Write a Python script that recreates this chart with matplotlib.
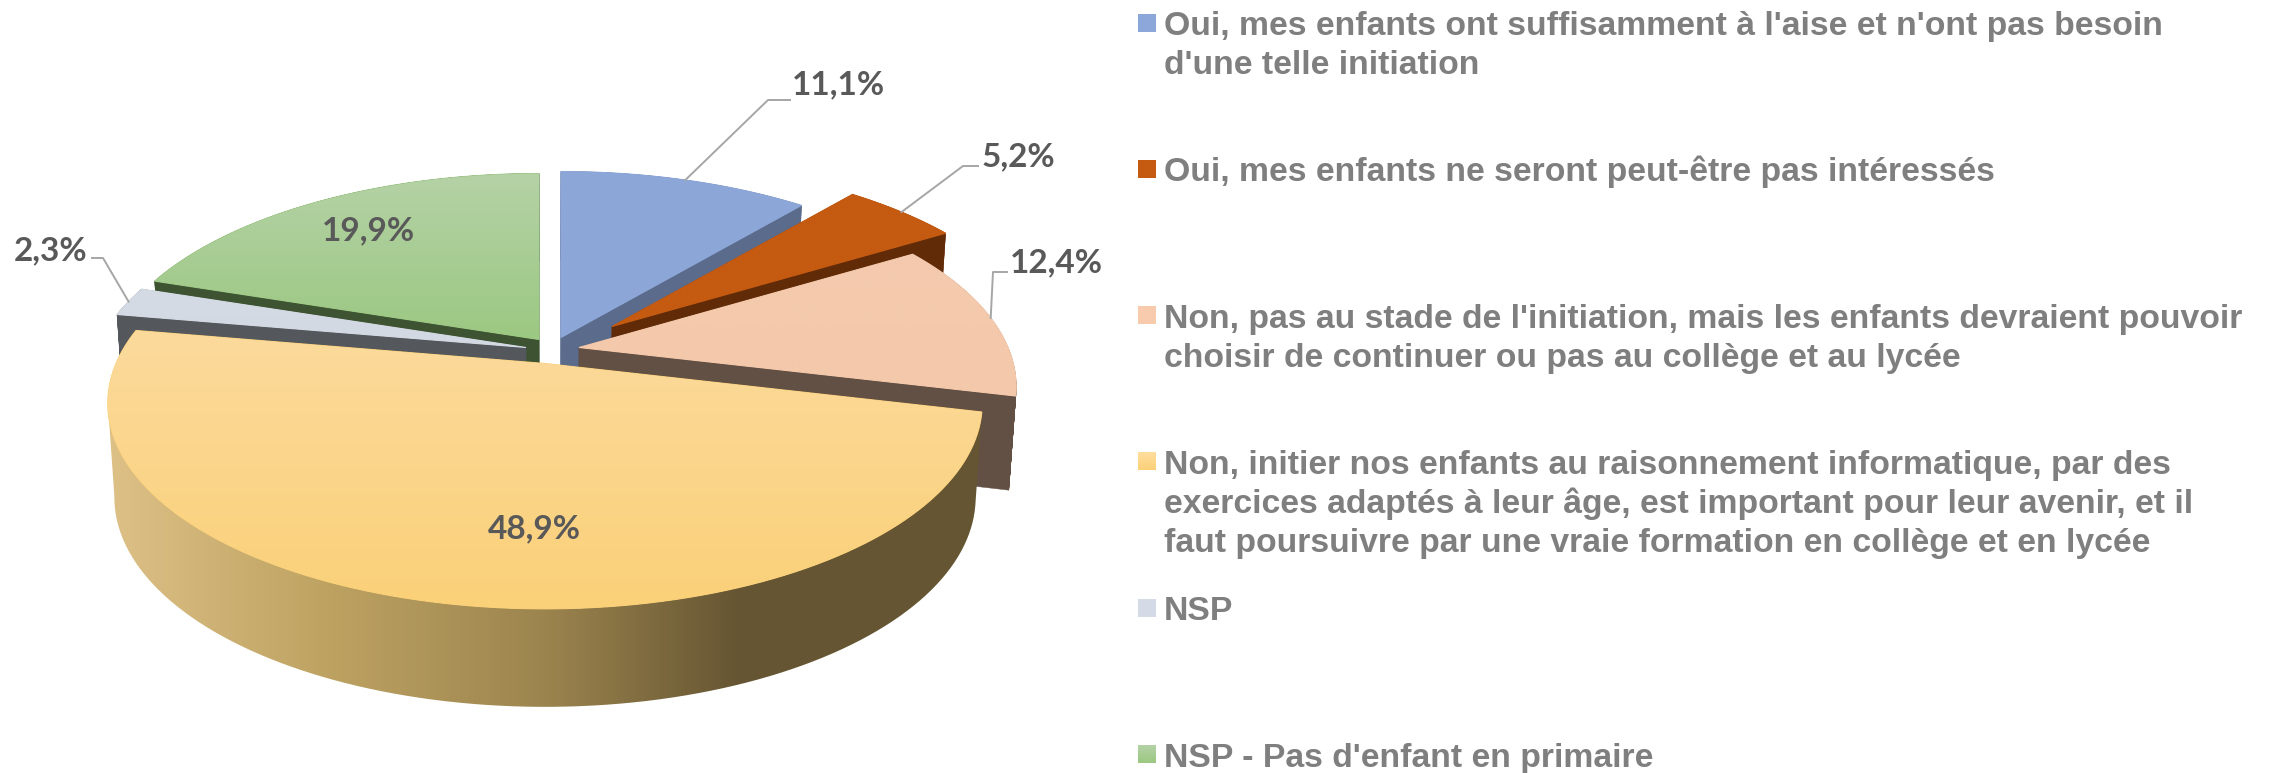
import numpy as np
import matplotlib
matplotlib.use("Agg")
import matplotlib.pyplot as plt
from matplotlib.colors import LinearSegmentedColormap
from matplotlib.patches import Polygon

# Values and labels
values = [11.1, 5.2, 12.4, 48.9, 2.3, 19.9]
value_labels = ["11,1%", "5,2%", "12,4%", "48,9%", "2,3%", "19,9%"]
legend_lines = [
    ["Oui, mes enfants ont suffisamment à l'aise et n'ont pas besoin", "d'une telle initiation"],
    ["Oui, mes enfants ne seront peut-être pas intéressés"],
    ["Non, pas au stade de l'initiation, mais les enfants devraient pouvoir", "choisir de continuer ou pas au collège et au lycée"],
    ["Non, initier nos enfants au raisonnement informatique, par des", "exercices adaptés à leur âge, est important pour leur avenir, et il", "faut poursuivre par une vraie formation en collège et en lycée"],
    ["NSP"],
    ["NSP - Pas d'enfant en primaire"],
]

# Colours: top face gradient (far, near) and side wall
top_colors = [("#8CA7D9", "#8CA6D7"), ("#C55A11", "#C55A11"), ("#F4CAAE", "#F4C8AA"),
              ("#FCDA9C", "#FAD078"), ("#D5DBE4", "#D3D9E2"), ("#B5D2A6", "#9BC882")]
wall_colors = ["#5A6B8C", "#612B08", "#625045", "#655532", "#54585C", "#3E5332"]
legend_colors = [("#8CA7D9", "#8CA7D9"), ("#C55A11", "#C55A11"), ("#F8CBAD", "#F8CBAD"),
                 ("#FFDF9F", "#FBD078"), ("#D5DBE6", "#D5DBE6"), ("#B5D2A6", "#9BC882")]
front_wall = [(0, "#DDC086"), (0.25, "#BDA262"), (0.5, "#9C844E"), (0.72, "#665633"), (1, "#655532")]

# Pie geometry in figure pixels
cx, cy = 545, 363.5
radius, squash, persp = 429, 198, 0.193
depth = 93
apex_shift = [(16, -26), (67, -37), (34, -16), (0, 0), (-19, -16), (-6, -24)]
draw_order = [0, 1, 5, 4, 2, 3]

fig = plt.figure(figsize=(22.71, 7.73), dpi=100)
ax = fig.add_axes([0, 0, 1, 1])
ax.axis("off")


def project(angle, r, shift):
    # angle clockwise from the top, on a tilted plane with perspective
    px = r * np.sin(angle)
    py = r * np.cos(angle)
    s = 1 / (1 + persp * py)
    return cx + shift[0] + radius * px * s, cy + shift[1] - squash * py * s, py


def lower(x, y, py):
    return cx + (x - cx) * 0.985, y + depth - 5 * py


def gradient(xs, ys, colors, z, horizontal=False):
    cmap = LinearSegmentedColormap.from_list("g", colors)
    grad = np.linspace(0, 1, 256)
    grad = grad[None, :] if horizontal else grad[:, None]
    im = ax.imshow(grad, extent=(min(xs), max(xs), max(ys), min(ys)), cmap=cmap,
                   aspect="auto", zorder=z, interpolation="bilinear")
    im.set_clip_path(Polygon(np.c_[xs, ys], closed=True, transform=ax.transData))


edges = np.cumsum([0] + values) / sum(values) * 2 * np.pi
z = 1
for i in draw_order:
    ang = np.linspace(edges[i], edges[i + 1], 120)
    ax_, ay_, _ = project(0, 0, apex_shift[i])
    ox, oy, opy = project(ang, 1, apex_shift[i])
    xs = np.r_[ax_, ox]
    ys = np.r_[ay_, oy]
    pys = np.r_[0, opy]
    bx, by = lower(xs, ys, pys)

    if i == 3:
        # the big slice only shows its curved front, from its far right to its far left
        a, b = np.argmax(ox), np.argmin(ox) + 1
        lx, ly = lower(ox[a:b], oy[a:b], opy[a:b])
        gradient(np.r_[ox[a:b], lx[::-1]], np.r_[oy[a:b], ly[::-1]], front_wall, z, horizontal=True)
    else:
        # side walls, one quad per edge of the top face
        for k in range(len(xs)):
            n = (k + 1) % len(xs)
            ax.fill([xs[k], xs[n], bx[n], bx[k]], [ys[k], ys[n], by[n], by[k]],
                    color=wall_colors[i], lw=0.3, zorder=z)
    z += 1
    ax.fill(xs, ys, color=top_colors[i][1], lw=0.8, zorder=z)
    z += 1
    gradient(xs, ys, top_colors[i], z)
    z += 1

# Data labels and leader lines
label_pos = [(838, 85), (1018, 157), (1056, 263), (534, 529), (51, 251), (368, 231)]
elbows = [[(768, 100), (790, 100)], [(963, 166), (978, 166)], [(993, 272), (1007, 272)], None,
          [(103, 258), (92, 258)], None]
mids = (edges[:-1] + edges[1:]) / 2
for i, label in enumerate(value_labels):
    if elbows[i] is not None:
        sx, sy, _ = project(mids[i], 1, apex_shift[i])
        ax.plot([sx] + [p[0] for p in elbows[i]], [sy] + [p[1] for p in elbows[i]],
                color="#A6A6A6", lw=1.4, zorder=z)
    ax.text(label_pos[i][0], label_pos[i][1], label, family="Lato", weight="bold", fontsize=24,
            color="#595959", ha="center", va="center", zorder=z + 1)

# Legend
first_baseline = [35, 181, 328, 474, 620, 767]
swatch_top = [14, 160, 306, 452, 599, 745]
for i, lines in enumerate(legend_lines):
    sx = [1138, 1156, 1156, 1138]
    sy = [swatch_top[i], swatch_top[i], swatch_top[i] + 18, swatch_top[i] + 18]
    gradient(sx, sy, legend_colors[i], z)
    for j, line in enumerate(lines):
        ax.text(1164, first_baseline[i] + 39 * j, line, family="Liberation Sans", weight="bold",
                fontsize=24.3, color="#7F7F7F", ha="left", va="baseline")

ax.set_xlim(0, 2271)
ax.set_ylim(773, 0)
fig.savefig("out.png", dpi=100)
